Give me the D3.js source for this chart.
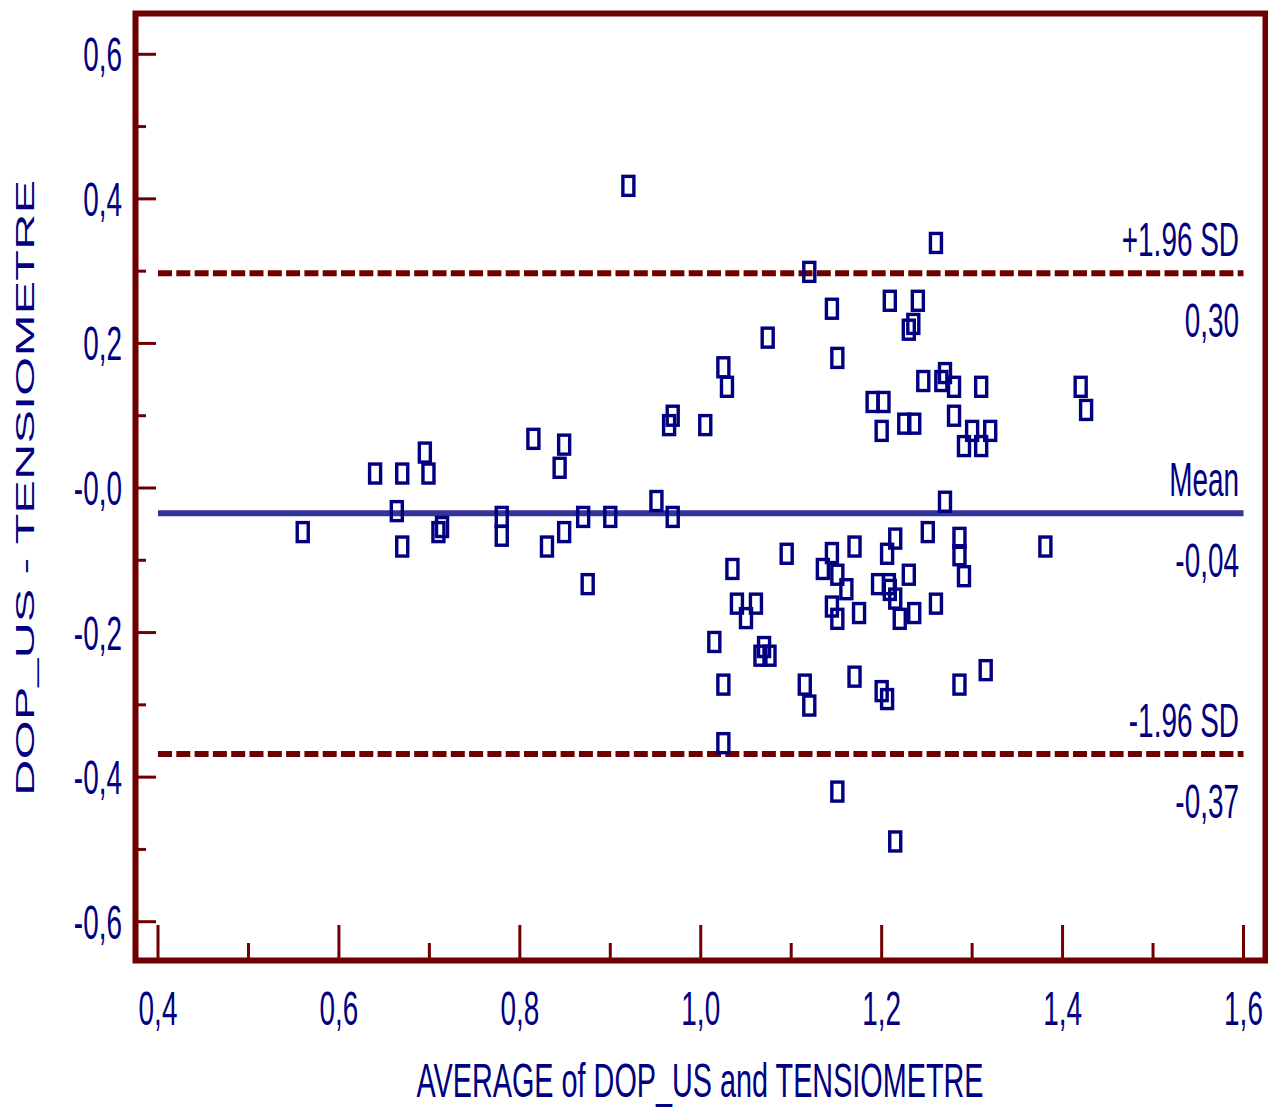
<!DOCTYPE html>
<html>
<head>
<meta charset="utf-8">
<script src="https://cdn.jsdelivr.net/npm/d3@7"></script>
<style>
  body { margin: 0; background: #fff; }
  svg { display: block; }
  text { font-family: "Liberation Sans", Arial, sans-serif; fill: #000080; }
</style>
</head>
<body>
<svg id="chart" width="1268" height="1109"></svg>
<script>
// Bland-Altman: average vs difference
const avgValues = [
  0.920, 1.260, 1.120, 1.145, 1.209, 1.240, 1.235, 1.230, 1.074, 1.151,
  1.025, 1.029, 1.246, 1.270, 1.266, 1.280, 1.310, 1.420, 1.426, 1.280,
  1.190, 1.202, 1.200, 1.225, 1.236, 1.300, 1.320, 1.291, 1.310, 0.965,
  0.969, 1.005, 0.815, 0.849, 0.844, 0.695, 0.640, 0.670, 0.699, 0.664,
  0.560, 0.670, 0.710, 0.714, 0.780, 0.780, 0.830, 0.849, 0.870, 0.875,
  0.900, 0.951, 0.969, 1.270, 1.251, 1.286, 1.286, 1.291, 1.381, 1.095,
  1.035, 1.040, 1.061, 1.050, 1.015, 1.070, 1.066, 1.076, 1.025, 1.025,
  1.115, 1.120, 1.135, 1.145, 1.151, 1.170, 1.161, 1.145, 1.151, 1.175,
  1.206, 1.215, 1.196, 1.208, 1.209, 1.215, 1.230, 1.220, 1.236, 1.260,
  1.170, 1.200, 1.206, 1.286, 1.315, 1.151, 1.215
];
const diffValues = [
  0.418, 0.339, 0.299, 0.248, 0.259, 0.259, 0.227, 0.219, 0.208, 0.180,
  0.167, 0.140, 0.148, 0.159, 0.148, 0.140, 0.140, 0.140, 0.108, 0.100,
  0.119, 0.119, 0.079, 0.089, 0.089, 0.079, 0.079, 0.058, 0.058, 0.087,
  0.100, 0.087, 0.068, 0.060, 0.028, 0.049, 0.020, 0.020, 0.020, -0.032,
  -0.061, -0.081, -0.061, -0.054, -0.040, -0.066, -0.081, -0.061, -0.040, -0.133,
  -0.040, -0.018, -0.040, -0.019, -0.061, -0.069, -0.093, -0.122, -0.081, -0.091,
  -0.112, -0.160, -0.160, -0.180, -0.213, -0.220, -0.232, -0.232, -0.272, -0.353,
  -0.272, -0.301, -0.112, -0.090, -0.120, -0.081, -0.140, -0.164, -0.181, -0.173,
  -0.091, -0.070, -0.133, -0.133, -0.141, -0.153, -0.120, -0.181, -0.173, -0.160,
  -0.261, -0.281, -0.292, -0.272, -0.252, -0.420, -0.489
];

const refValues = [0.297, -0.035, -0.368];
const refNames = ["+1.96 SD", "Mean", "-1.96 SD"];
const refLabels = ["0,30", "-0,04", "-0,37"];

const xTicks = [0.4, 0.6, 0.8, 1.0, 1.2, 1.4, 1.6];
const xMinor = [0.5, 0.7, 0.9, 1.1, 1.3, 1.5];
const yTicks = [0.6, 0.4, 0.2, 0, -0.2, -0.4, -0.6];
const yMinor = [0.5, 0.3, 0.1, -0.1, -0.3, -0.5];
const xTickLabels = ["0,4", "0,6", "0,8", "1,0", "1,2", "1,4", "1,6"];
const yTickLabels = ["0,6", "0,4", "0,2", "-0,0", "-0,2", "-0,4", "-0,6"];

const dark = "#6f0000";
const navy = "#000080";
const sx = 0.57; // narrow lettering

const svg = d3.select("#chart");

const x = d3.scaleLinear().domain([0.4, 1.6]).range([158, 1243.5]);
const y = d3.scaleLinear().domain([0.6, -0.6]).range([54.3, 921.7]);

// frame
const frame = { left: 135.5, top: 13.5, right: 1265.5, bottom: 960.5 };

// reference lines
svg.selectAll(".ref")
  .data(refValues)
  .enter()
  .append("line")
  .attr("x1", x(0.4))
  .attr("x2", x(1.6))
  .attr("y1", d => y(d))
  .attr("y2", d => y(d))
  .attr("stroke", (d, i) => i === 1 ? "#333399" : dark)
  .attr("stroke-width", 6)
  .attr("stroke-dasharray", (d, i) => i === 1 ? null : "14,4.3");

// points
svg.selectAll(".pt")
  .data(avgValues)
  .enter()
  .append("rect")
  .attr("x", d => x(d) - 5.5)
  .attr("y", (d, i) => y(diffValues[i]) - 9.5)
  .attr("width", 11)
  .attr("height", 19)
  .attr("fill", "none")
  .attr("stroke", navy)
  .attr("stroke-width", 3.4);

// y ticks
svg.selectAll(".ytick")
  .data(yTicks.concat(yMinor))
  .enter()
  .append("line")
  .attr("x1", frame.left)
  .attr("x2", (d, i) => i < yTicks.length ? 156 : 146)
  .attr("y1", d => y(d))
  .attr("y2", d => y(d))
  .attr("stroke", dark)
  .attr("stroke-width", 3);

// x ticks
svg.selectAll(".xtick")
  .data(xTicks.concat(xMinor))
  .enter()
  .append("line")
  .attr("x1", d => x(d))
  .attr("x2", d => x(d))
  .attr("y1", frame.bottom)
  .attr("y2", (d, i) => i < xTicks.length ? 925 : 943)
  .attr("stroke", dark)
  .attr("stroke-width", 3);

svg.append("rect")
  .attr("x", frame.left)
  .attr("y", frame.top)
  .attr("width", frame.right - frame.left)
  .attr("height", frame.bottom - frame.top)
  .attr("fill", "none")
  .attr("stroke", dark)
  .attr("stroke-width", 6);

function narrowText(tx, ty, str, anchor, size, scaleX) {
  svg.append("text")
    .attr("transform", `translate(${tx},${ty}) scale(${scaleX || sx},1)`)
    .attr("text-anchor", anchor)
    .attr("font-size", size || 49)
    .text(str);
}

yTicks.forEach((d, i) => narrowText(122, y(d) + 17, yTickLabels[i], "end"));
xTicks.forEach((d, i) => narrowText(x(d), 1025, xTickLabels[i], "middle"));

refValues.forEach((d, i) => {
  narrowText(1239, y(d) - 17, refNames[i], "end");
  narrowText(1239, y(d) + 64, refLabels[i], "end");
});

// axis titles
narrowText(700, 1097, "AVERAGE of DOP_US and TENSIOMETRE", "middle", 48, 0.6);

svg.append("text")
  .attr("transform", "translate(34,488) rotate(-90) scale(1.01,0.5)")
  .attr("text-anchor", "middle")
  .attr("font-size", 50)
  .text("DOP_US - TENSIOMETRE");
</script>
</body>
</html>
